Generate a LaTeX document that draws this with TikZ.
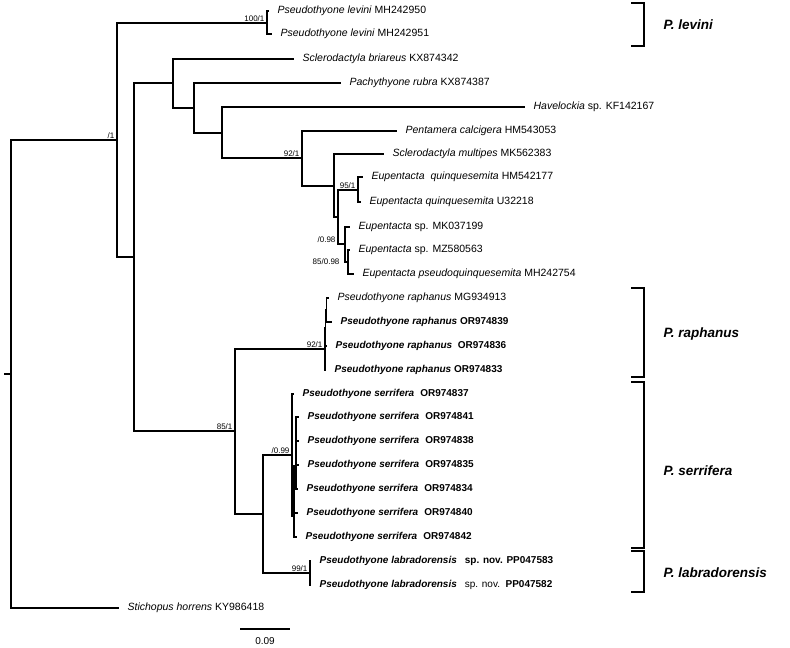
\documentclass[tikz,border=0pt]{standalone}
\usepackage{fontspec}
\setmainfont{Liberation Sans}
\newcommand{\pra}[1]{\textbf{\textit{Pseudothyone raphanus}} \textbf{#1}}
\newcommand{\psr}[1]{\textbf{\textit{Pseudothyone serrifera}}\hspace{6pt}\textbf{#1}}
\newcommand{\pla}{\textbf{\textit{Pseudothyone labradorensis}}\hspace{8pt}}

\begin{document}
\begin{tikzpicture}[x=1pt, y=-1pt, line width=1.2pt, line cap=rect,
    taxon/.style={anchor=west, inner xsep=9pt, inner ysep=0pt, font=\fontsize{10.5}{12}\selectfont},
    taxb/.style={taxon, font=\fontsize{10}{12}\selectfont},
    boot/.style={anchor=south east, inner sep=1pt, xshift=-1pt, font=\fontsize{8}{9}\selectfont},
    grp/.style={anchor=west, inner sep=0pt, font=\fontsize{13.5}{16}\selectfont\bfseries\itshape}]
  \useasboundingbox (0,0) rectangle (790,648);
  % internal nodes
  \coordinate (rt) at (5,374);
  \coordinate (r) at (11,374);
  \coordinate (n1) at (117,140);
  \coordinate (nlev) at (267,23);
  \coordinate (n2) at (134,257);
  \coordinate (n3) at (173,83);
  \coordinate (n4) at (194,108);
  \coordinate (n5) at (222,133);
  \coordinate (n92) at (302,158);
  \coordinate (n6) at (334,186);
  \coordinate (n7) at (338,217);
  \coordinate (n95) at (358,190);
  \coordinate (n098) at (345,244);
  \coordinate (n85b) at (348,262);
  \coordinate (n85) at (235,431);
  \coordinate (nrap) at (325,349);
  \coordinate (xr) at (325.8,328);
  \coordinate (yr) at (326.6,310);
  \coordinate (n8) at (263,514);
  \coordinate (nser) at (292,455);
  \coordinate (xs) at (294,516);
  \coordinate (ys) at (296,466);
  \coordinate (n99) at (310,573);
  % tips
  \node[taxon] (t1) at (268,11) {\textit{Pseudothyone levini} MH242950};
  \node[taxon] (t2) at (271,34) {\textit{Pseudothyone levini} MH242951};
  \node[taxon] (t3) at (293,59) {\textit{Sclerodactyla briareus} KX874342};
  \node[taxon] (t4) at (340,83) {\textit{Pachythyone rubra} KX874387};
  \node[taxon] (t5) at (524,107) {\textit{Havelockia} sp. KF142167};
  \node[taxon] (t6) at (396,131) {\textit{Pentamera calcigera} HM543053};
  \node[taxon] (t7) at (383,154) {\textit{Sclerodactyla multipes} MK562383};
  \node[taxon] (t8) at (362,177) {\textit{Eupentacta\ \ quinquesemita} HM542177};
  \node[taxon] (t9) at (360,202) {\textit{Eupentacta quinquesemita} U32218};
  \node[taxon] (t10) at (349,227) {\textit{Eupentacta} sp. MK037199};
  \node[taxon] (t11) at (349,250) {\textit{Eupentacta} sp. MZ580563};
  \node[taxon] (t12) at (353,274) {\textit{Eupentacta pseudoquinquesemita} MH242754};
  \node[taxon] (t13) at (328,298) {\textit{Pseudothyone raphanus} MG934913};
  \node[taxb] (t14) at (331,322) {\pra{OR974839}};
  \node[taxb] (t15) at (326,346) {\pra{\ OR974836}};
  \node[taxb] (t16) at (325,370) {\pra{OR974833}};
  \node[taxb] (t17) at (293,394) {\psr{OR974837}};
  \node[taxb] (t18) at (298,417) {\psr{OR974841}};
  \node[taxb] (t19) at (298,441) {\psr{OR974838}};
  \node[taxb] (t20) at (298,465) {\psr{OR974835}};
  \node[taxb] (t21) at (297,489) {\psr{OR974834}};
  \node[taxb] (t22) at (297,513) {\psr{OR974840}};
  \node[taxb] (t23) at (296,537) {\psr{OR974842}};
  \node[taxb] (t24) at (310,561) {\pla\textbf{sp. nov. PP047583}};
  \node[taxb] (t25) at (310,585) {\pla sp. nov.\ \ \textbf{PP047582}};
  \node[taxon] (t26) at (118,608) {\textit{Stichopus horrens} KY986418};
  % branches
  \draw (rt) -- (r);
  \foreach \a/\b in {r/n1, r/t26, n1/nlev, n1/n2, nlev/t1, nlev/t2, n2/n3, n2/n85,
      n3/t3, n3/n4, n4/t4, n4/n5, n5/t5, n5/n92, n92/t6, n92/n6, n6/t7, n6/n7,
      n7/n95, n7/n098, n95/t8, n95/t9, n098/t10, n098/n85b, n85b/t11, n85b/t12,
      n85/nrap, n85/n8, nrap/xr, nrap/t16, xr/yr, xr/t15, yr/t13, yr/t14,
      n8/nser, n8/n99, nser/t17, nser/xs, xs/ys, xs/t22, xs/t23,
      ys/t18, ys/t19, ys/t20, ys/t21, n99/t24, n99/t25}
    \draw (\a) |- (\b);
  % support values
  \node[boot] (b1) at (nlev) {100/1};
  \node[boot] (b2) at (n1) {/1};
  \node[boot] (b3) at (n92) {92/1};
  \node[boot] (b4) at (n95) {95/1};
  \node[boot] (b5) at (n7 |- n098) {/0.98};
  \node[boot, anchor=east, xshift=-3pt] (b6) at (n098 |- n85b) {85/0.98};
  \node[boot] (b7) at (nrap) {92/1};
  \node[boot] (b8) at (n85) {85/1};
  \node[boot] (b9) at (nser) {/0.99};
  \node[boot] (b10) at (n99) {99/1};
  % clades
  \foreach \yt/\yb/\ym/\gname [count=\i] in {3/46/25/levini, 288/377/334/raphanus,
      382/548/471/serrifera, 551/592/573/labradorensis} {
    \draw[line width=1.4pt] (632,\yt) -| (644,\yb) -- (632,\yb);
    \node[grp] (g\i) at (663,\ym) {P. \gname};
  }
  % scale
  \coordinate (sa) at (241,629);
  \coordinate (sb) at (289,629);
  \draw (sa) -- (sb);
  \node[font=\fontsize{10}{11}\selectfont] (sc) at (265,641) {0.09};
\end{tikzpicture}
\end{document}
